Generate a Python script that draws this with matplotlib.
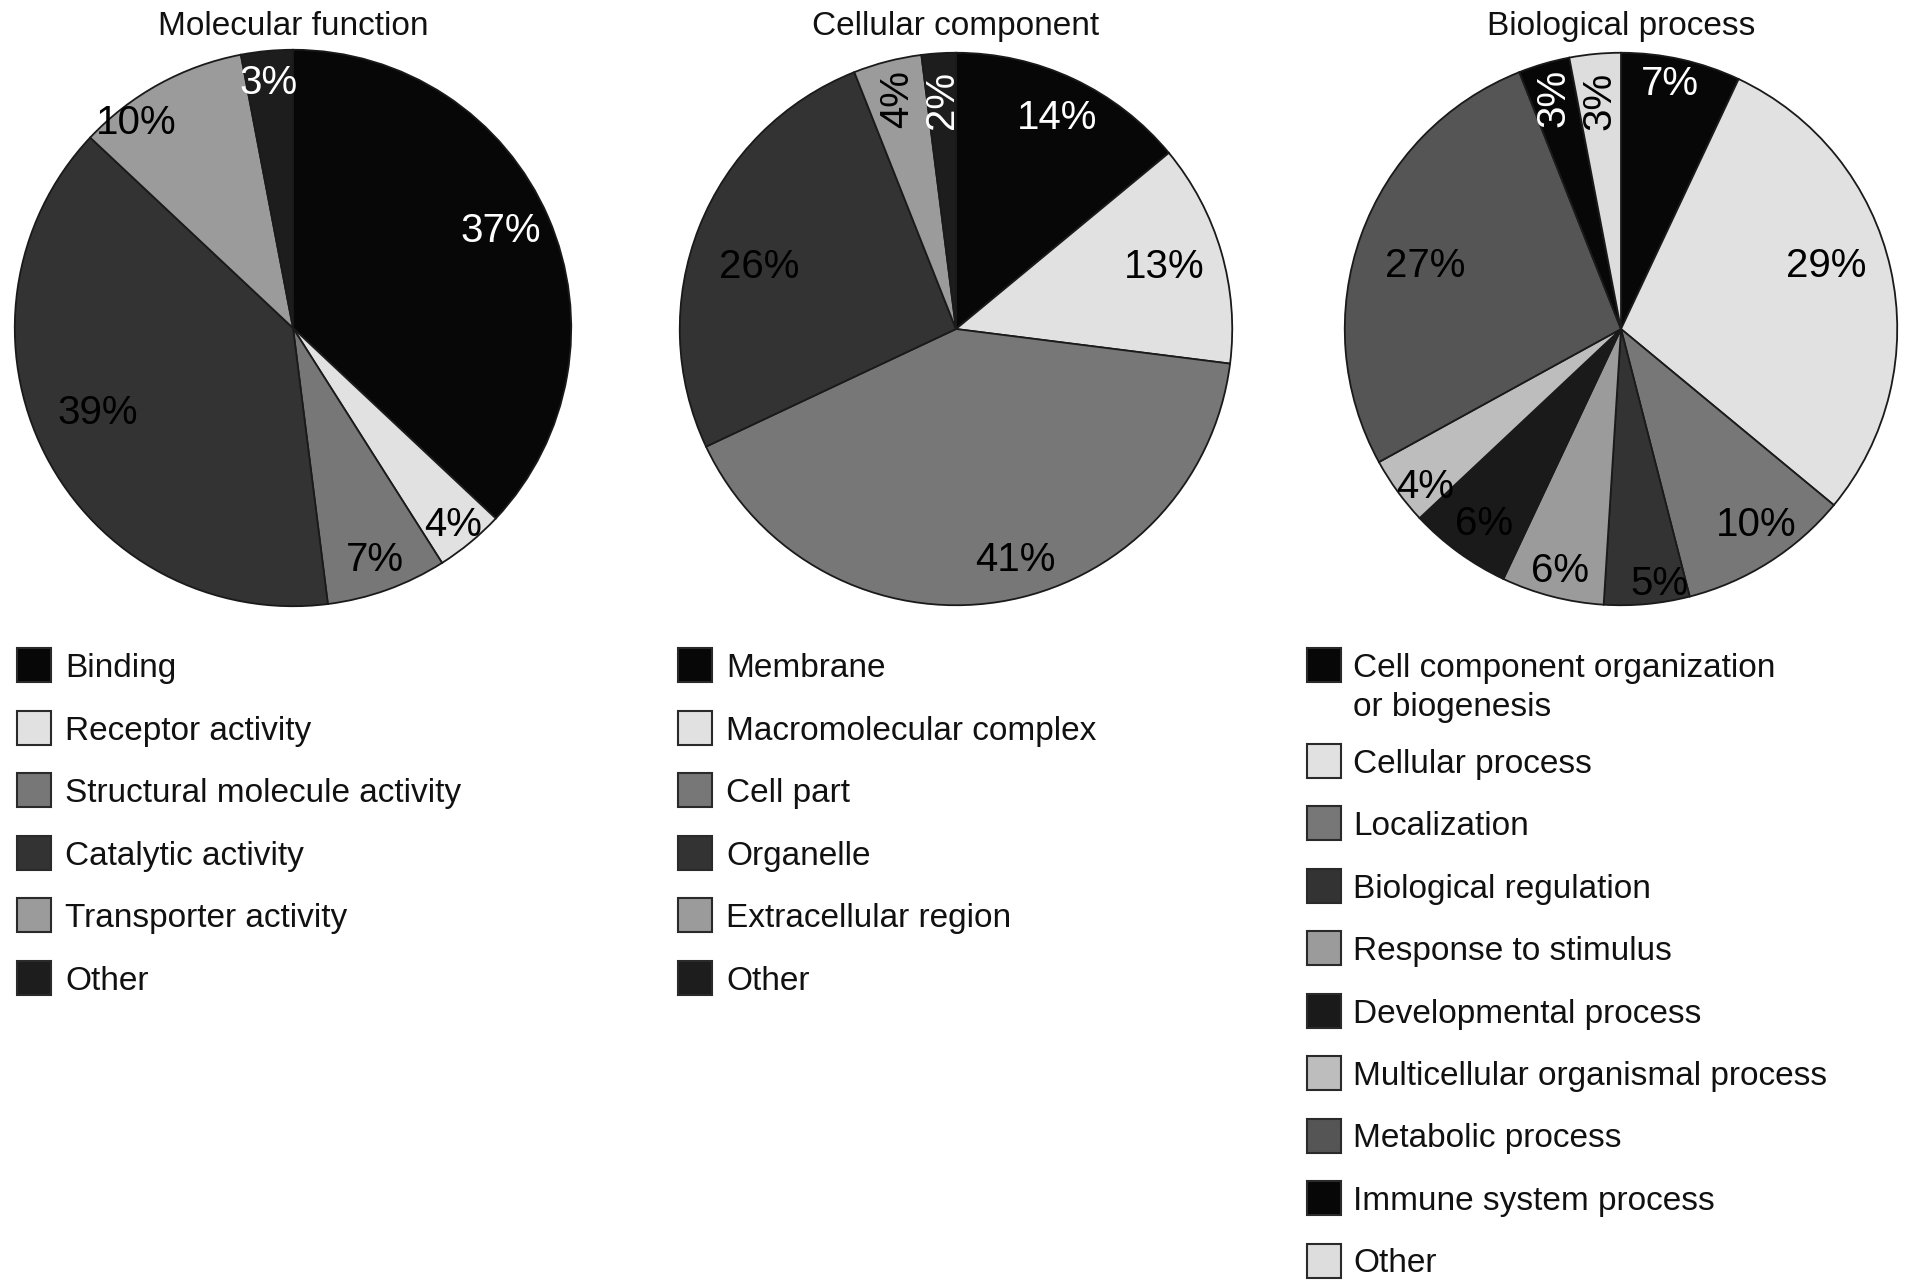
import numpy as np
import matplotlib
matplotlib.use('Agg')
import matplotlib.pyplot as plt
from matplotlib.patches import Rectangle

plt.rcParams['font.family'] = ['Liberation Sans', 'DejaVu Sans']

# ---------------- data ----------------
mf_title = 'Molecular function'
mf_labels = ['Binding', 'Receptor activity', 'Structural molecule activity',
             'Catalytic activity', 'Transporter activity', 'Other']
mf_values = [37, 4, 7, 39, 10, 3]
mf_colors = ['#070707', '#e1e1e1', '#777777', '#333333', '#9b9b9b', '#1d1d1d']

cc_title = 'Cellular component'
cc_labels = ['Membrane', 'Macromolecular complex', 'Cell part', 'Organelle',
             'Extracellular region', 'Other']
cc_values = [14, 13, 41, 26, 4, 2]
cc_colors = ['#070707', '#e1e1e1', '#777777', '#333333', '#9b9b9b', '#1d1d1d']

bp_title = 'Biological process'
bp_labels = ['Cell component organization\nor biogenesis', 'Cellular process',
             'Localization', 'Biological regulation', 'Response to stimulus',
             'Developmental process', 'Multicellular organismal process',
             'Metabolic process', 'Immune system process', 'Other']
bp_values = [7, 29, 10, 5, 6, 6, 4, 27, 3, 3]
bp_colors = ['#070707', '#e1e1e1', '#777777', '#333333', '#9b9b9b', '#1a1a1a',
             '#bdbdbd', '#555555', '#070707', '#dddddd']

# ---------------- label styles (fraction along wedge from its start, radius, colour, rotation) ----
mf_lab = [(0.481, 0.83, 'white', 0), (0.5, 0.90, 'black', 0), (0.5, 0.87, 'black', 0),
          (0.532, 0.76, 'black', 0), (0.275, 0.94, 'black', 0), (0.48, 0.90, 'white', 0)]
cc_lab = [(0.5, 0.86, 'white', 0), (0.468, 0.79, 'black', 0), (0.461, 0.85, 'black', 0),
          (0.468, 0.75, 'black', 0), (0.5, 0.86, 'black', 90), (0.5, 0.83, 'white', 90)]
bp_lab = [(0.44, 0.92, 'white', 0), (0.448, 0.78, 'black', 0), (0.42, 0.85, 'black', 0),
          (0.32, 0.92, 'black', 0), (0.5, 0.89, 'black', 0), (0.48, 0.85, 'black', 0),
          (0.35, 0.90, 'black', 0), (0.49, 0.75, 'black', 0), (0.5, 0.87, 'white', 90),
          (0.5, 0.83, 'black', 90)]

W, H = 1913, 1288
fig = plt.figure(figsize=(W / 100, H / 100), dpi=100)

overlay = fig.add_axes([0, 0, 1, 1])
overlay.set_xlim(0, W)
overlay.set_ylim(H, 0)
overlay.axis('off')

pies = [
    dict(title=mf_title, labels=mf_labels, values=mf_values, colors=mf_colors, lab=mf_lab,
         cx=293, cy=328, r=281, lx=17, tx=65),
    dict(title=cc_title, labels=cc_labels, values=cc_values, colors=cc_colors, lab=cc_lab,
         cx=956, cy=329, r=279, lx=678, tx=726),
    dict(title=bp_title, labels=bp_labels, values=bp_values, colors=bp_colors, lab=bp_lab,
         cx=1621, cy=329, r=279, lx=1307, tx=1353),
]

for p in pies:
    cx, cy, r = p['cx'], p['cy'], p['r']
    ax = fig.add_axes([(cx - r) / W, (H - cy - r) / H, 2 * r / W, 2 * r / H])
    wedges, _ = ax.pie(p['values'], colors=p['colors'], startangle=90, counterclock=False,
                       radius=1.0, wedgeprops=dict(edgecolor='#1a1a1a', linewidth=1.3))
    ax.set_xlim(-1.01, 1.01)
    ax.set_ylim(-1.01, 1.01)
    ax.set_aspect('equal')
    ax.axis('off')
    for w, v, (f, rr, col, rot) in zip(wedges, p['values'], p['lab']):
        ang = np.deg2rad(w.theta2 - f * (w.theta2 - w.theta1))
        ax.text(rr * np.cos(ang), rr * np.sin(ang), f'{v}%', ha='center',
                va='center' if rot else 'center_baseline',
                fontsize=29, color=col, rotation=rot)
    overlay.text(cx, 35, p['title'], ha='center', va='baseline', fontsize=24, color='#111111')

    # legend
    y = 665
    box = 34
    for lab, col in zip(p['labels'], p['colors']):
        overlay.add_patch(Rectangle((p['lx'], y - box / 2), box, box, facecolor=col,
                                    edgecolor='#2a2a2a', linewidth=1.5))
        lines = lab.split('\n')
        for k, line in enumerate(lines):
            overlay.text(p['tx'], y + 12 + 39 * k, line, ha='left', va='baseline',
                         fontsize=24, color='#111111')
        y += 62.5 + 33 * (len(lines) - 1)

fig.savefig('out.png', dpi=100, facecolor='white')
